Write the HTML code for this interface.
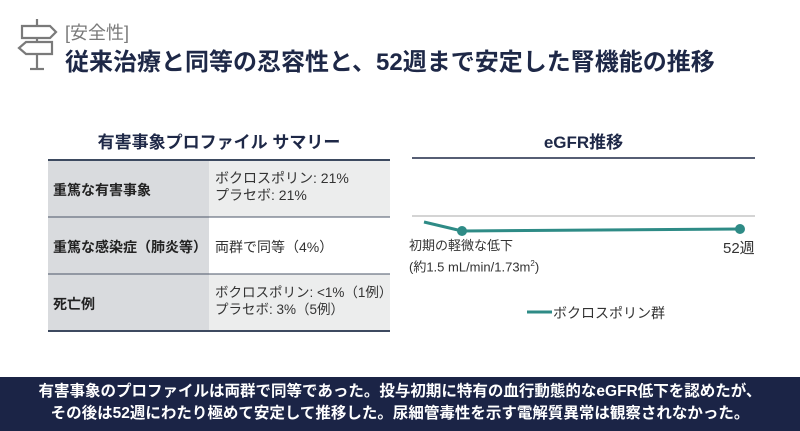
<!DOCTYPE html>
<html><head><meta charset="utf-8"><style>
body{margin:0;width:800px;height:431px;background:#fff;position:relative;overflow:hidden;font-family:"Liberation Sans","Noto Sans CJK JP",sans-serif;}
.a{position:absolute;white-space:nowrap;}
.navy{color:#1e2847;}
</style></head><body>
<svg class="a" style="left:0;top:0" width="800" height="431">
 <g fill="none" stroke="#7a7a7a" stroke-width="2.2">
  <line x1="37" y1="19" x2="37" y2="26"/>
  <path d="M22 26 H50 L56 32 L50 38 H22 Z"/>
  <path d="M52 42 H26 L19 48 L26 54 H52 Z"/>
  <line x1="37" y1="38" x2="37" y2="42"/>
  <line x1="37" y1="54" x2="37" y2="68"/>
  <line x1="30" y1="69" x2="44" y2="69"/>
 </g>
 <rect x="48" y="160" width="161" height="57" fill="#d9dbde"/>
 <rect x="209" y="160" width="181" height="57" fill="#eceded"/>
 <rect x="48" y="217" width="161" height="57" fill="#d9dbde"/>
 <rect x="48" y="274" width="161" height="57" fill="#d9dbde"/>
 <rect x="209" y="274" width="181" height="57" fill="#eceded"/>
 <line x1="48" y1="160" x2="390" y2="160" stroke="#3d4a60" stroke-width="2"/>
 <line x1="48" y1="217" x2="390" y2="217" stroke="#4a5568" stroke-width="1"/>
 <line x1="48" y1="274" x2="390" y2="274" stroke="#4a5568" stroke-width="1"/>
 <line x1="48" y1="331" x2="390" y2="331" stroke="#3d4a60" stroke-width="2"/>
 <line x1="412" y1="158" x2="755" y2="158" stroke="#1e2847" stroke-width="1.5"/>
 <line x1="412" y1="216" x2="755" y2="216" stroke="#aaa" stroke-width="1"/>
 <polyline points="424,222 462,231 740,229" fill="none" stroke="#2e8b86" stroke-width="3"/>
 <circle cx="462" cy="231" r="5" fill="#2e8b86"/>
 <circle cx="740" cy="229" r="5" fill="#2e8b86"/>
 <line x1="527" y1="312" x2="552" y2="312" stroke="#2e8b86" stroke-width="3"/>
 <rect x="0" y="377" width="800" height="54" fill="#1b2446"/>
</svg>
<div class="a" style="left:65px;top:19px;font-size:18px;color:#7a7a7a;">[安全性]</div>
<div class="a navy" style="left:65px;top:42px;font-size:24px;font-weight:bold;">従来治療と同等の忍容性と、52週まで安定した腎機能の推移</div>
<div class="a navy" style="left:48px;width:342px;text-align:center;top:128px;font-size:17px;font-weight:bold;">有害事象プロファイル サマリー</div>
<div class="a navy" style="left:412px;width:343px;text-align:center;top:128px;font-size:17px;font-weight:bold;">eGFR推移</div>
<div class="a" style="left:53px;top:180px;font-size:14px;font-weight:bold;color:#222;">重篤な有害事象</div>
<div class="a" style="left:53px;top:237px;font-size:14px;font-weight:bold;color:#222;">重篤な感染症（肺炎等）</div>
<div class="a" style="left:53px;top:294px;font-size:14px;font-weight:bold;color:#222;">死亡例</div>
<div class="a" style="left:215px;top:170px;font-size:14px;line-height:17px;color:#333;">ボクロスポリン: 21%<br>プラセボ: 21%</div>
<div class="a" style="left:215px;top:237px;font-size:14px;color:#333;">両群で同等（4%）</div>
<div class="a" style="left:215px;top:284px;font-size:13.5px;line-height:17px;color:#333;">ボクロスポリン: &lt;1%（1例）<br>プラセボ: 3%（5例）</div>
<div class="a" style="left:409px;top:237px;font-size:13px;line-height:18px;color:#333;">初期の軽微な低下<br>(約1.5 mL/min/1.73m<sup style="font-size:8px">2</sup>)</div>
<div class="a" style="left:723px;top:237px;font-size:15px;color:#333;">52週</div>
<div class="a" style="left:553px;top:303px;font-size:14px;color:#333;">ボクロスポリン群</div>
<div class="a" style="left:0;width:800px;text-align:center;top:381px;font-size:15.5px;font-weight:bold;line-height:22px;color:#fff;">有害事象のプロファイルは両群で同等であった。投与初期に特有の血行動態的なeGFR低下を認めたが、<br>その後は52週にわたり極めて安定して推移した。尿細管毒性を示す電解質異常は観察されなかった。</div>
</body></html>
